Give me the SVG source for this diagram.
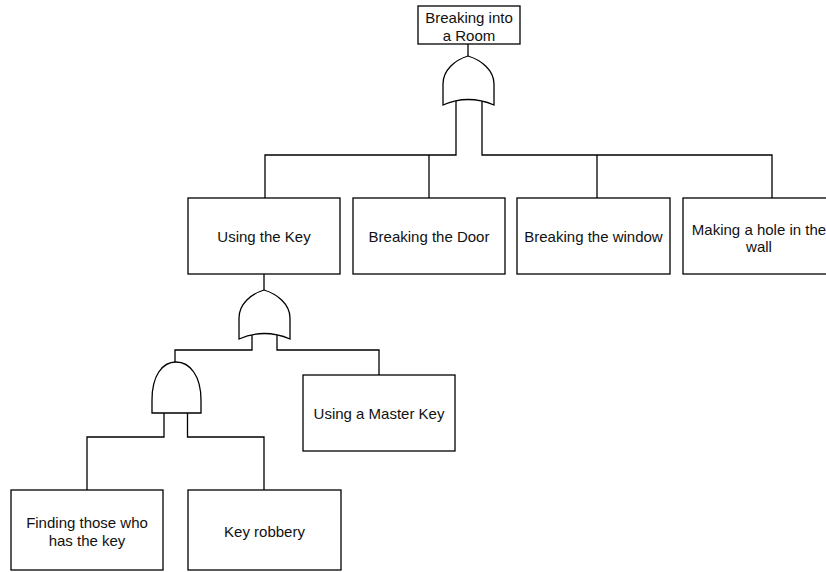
<svg xmlns="http://www.w3.org/2000/svg" width="826" height="572" viewBox="0 0 826 572">
<style>
.box{fill:#fff;stroke:#000;stroke-width:1.3}
.gate{fill:#fff;stroke:#000;stroke-width:1.3}
.wire{fill:none;stroke:#000;stroke-width:1.3}
text{font-family:"Liberation Sans",Arial,sans-serif;font-size:15px;fill:#111;text-anchor:middle}
</style>
<rect width="826" height="572" fill="#fff"/>
<g id="connectors">
<path class="wire" d="M468,44 L468,56"/>
<path class="wire" d="M456,101 L456,155 L265,155 L265,198"/>
<path class="wire" d="M429,155 L429,198"/>
<path class="wire" d="M482,101 L482,155 L772,155 L772,198"/>
<path class="wire" d="M597,155 L597,198"/>
<path class="wire" d="M264,274 L264,290"/>
<path class="wire" d="M252,335 L252,350 L175,350 L175,362"/>
<path class="wire" d="M277,335 L277,350 L379,350 L379,375"/>
<path class="wire" d="M164,413 L164,437 L87,437 L87,490"/>
<path class="wire" d="M187.5,413 L187.5,437 L264,437 L264,490"/>
</g>
<g id="node-top">
<rect class="box" x="418" y="6" width="102" height="38"/>
<text x="469" y="22.5">Breaking into</text>
<text x="469" y="40.5">a Room</text>
</g>
<g id="gate-or-top">
<path class="gate" d="M443,105 L443,84 C443,70 455,60 468,56 C481,60 494,70 494,84 L494,105 Q468,94 443,105 Z"/>
</g>
<g id="node-key">
<rect class="box" x="188" y="198" width="152" height="76"/>
<text x="264" y="241.5">Using the Key</text>
</g>
<g id="node-door">
<rect class="box" x="353" y="198" width="152" height="76"/>
<text x="429" y="241.5">Breaking the Door</text>
</g>
<g id="node-window">
<rect class="box" x="517" y="198" width="153" height="76"/>
<text x="593.5" y="241.5">Breaking the window</text>
</g>
<g id="node-wall">
<rect class="box" x="683" y="198" width="152" height="76"/>
<text x="759" y="234.5">Making a hole in the</text>
<text x="759" y="251.5">wall</text>
</g>
<g id="gate-or-key">
<path class="gate" d="M239,339 L239,318 C239,304 251,294 264,290 C277,294 290,304 290,318 L290,339 Q264,328 239,339 Z"/>
</g>
<g id="gate-and">
<path class="gate" d="M152,413 L152,400 C152,376 162,362 176,362 C190,362 201,376 201,400 L201,413 Z"/>
</g>
<g id="node-master">
<rect class="box" x="303" y="375" width="152" height="76"/>
<text x="379" y="418.5">Using a Master Key</text>
</g>
<g id="node-finding">
<rect class="box" x="11" y="490" width="152" height="80"/>
<text x="87" y="528">Finding those who</text>
<text x="87" y="546">has the key</text>
</g>
<g id="node-robbery">
<rect class="box" x="188" y="490" width="153" height="80"/>
<text x="264.5" y="537">Key robbery</text>
</g>
</svg>
